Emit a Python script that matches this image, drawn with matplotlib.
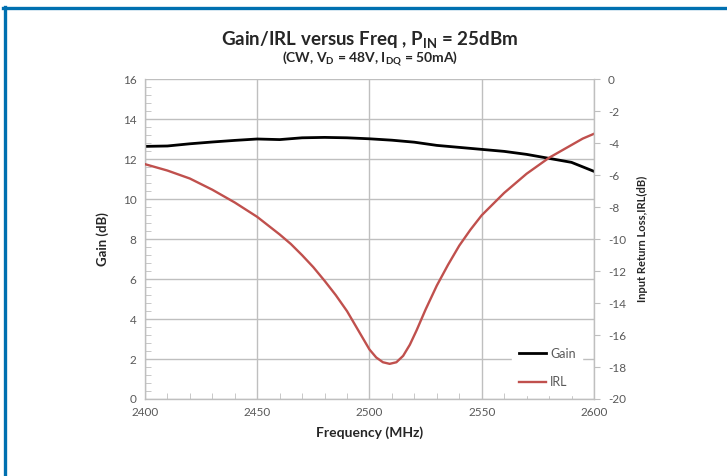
import numpy as np
import matplotlib
matplotlib.use("Agg")
from matplotlib import pyplot as plt
from matplotlib.lines import Line2D
from matplotlib.ticker import MultipleLocator

plt.rcParams['font.family'] = ['Lato', 'DejaVu Sans']
plt.rcParams['mathtext.fontset'] = 'custom'
plt.rcParams['mathtext.bf'] = 'Lato:bold'
plt.rcParams['mathtext.rm'] = 'Lato'
plt.rcParams['mathtext.default'] = 'bf'
plt.rcParams['axes.unicode_minus'] = False

# données
freq_gain = [2400, 2410, 2420, 2430, 2440, 2450, 2460, 2470, 2480, 2490, 2500,
             2510, 2520, 2530, 2540, 2550, 2560, 2570, 2580, 2590, 2600]
gain = [12.65, 12.67, 12.78, 12.87, 12.95, 13.02, 12.99, 13.08, 13.1, 13.08, 13.03,
        12.96, 12.86, 12.7, 12.6, 12.5, 12.4, 12.25, 12.05, 11.85, 11.4]

freq_irl = [2400, 2405, 2410, 2415, 2420, 2425, 2430, 2435, 2440, 2445, 2450,
            2455, 2460, 2465, 2470, 2475, 2480, 2485, 2490, 2495, 2500, 2503,
            2506, 2509, 2512, 2515, 2518, 2521, 2525, 2530, 2535, 2540, 2545,
            2550, 2555, 2560, 2565, 2570, 2575, 2580, 2585, 2590, 2595, 2600]
irl = [-5.3, -5.5, -5.7, -5.95, -6.2, -6.55, -6.9, -7.3, -7.7, -8.15, -8.6,
       -9.15, -9.7, -10.3, -11.0, -11.75, -12.6, -13.5, -14.5, -15.7, -16.9, -17.4,
       -17.7, -17.8, -17.7, -17.3, -16.6, -15.7, -14.4, -12.9, -11.6, -10.4, -9.4,
       -8.5, -7.8, -7.1, -6.5, -5.9, -5.4, -4.9, -4.5, -4.1, -3.7, -3.4]

titre = r"Gain/IRL versus Freq , P$_{IN}$ = 25dBm"
sous_titre = r"(CW, V$_{D}$ = 48V, I$_{DQ}$ = 50mA)"

gris_axe = "#bfbfbf"
gris_txt = "#595959"

fig = plt.figure(figsize=(7.27, 4.76), dpi=100)
ax = fig.add_axes([0.1994, 0.1618, 0.6176, 0.6712])
ax2 = ax.twinx()

l1, = ax.plot(freq_gain, gain, color="black", lw=2, label="Gain")
l2, = ax2.plot(freq_irl, irl, color="#c0504d", lw=1.7, label="IRL")

ax.set_xlim(2400, 2600)
ax.set_ylim(0, 16)
ax2.set_ylim(-20, 0)

ax.xaxis.set_major_locator(MultipleLocator(50))
ax.xaxis.set_minor_locator(MultipleLocator(10))
ax.yaxis.set_major_locator(MultipleLocator(2))
ax.yaxis.set_minor_locator(MultipleLocator(0.4))
ax2.yaxis.set_major_locator(MultipleLocator(2))

ax.grid(True, which="major", color=gris_axe, lw=1)
ax.set_axisbelow(True)

for a in (ax, ax2):
    for s in a.spines.values():
        s.set_visible(False)
ax.spines["left"].set_visible(True)
ax.spines["bottom"].set_visible(True)
ax2.spines["right"].set_visible(True)
for s in (ax.spines["left"], ax.spines["bottom"], ax2.spines["right"]):
    s.set_color(gris_axe)
    s.set_linewidth(1)

ax.tick_params(axis="both", which="both", direction="in", color=gris_axe,
               labelcolor=gris_txt, labelsize=8.5)
ax.tick_params(axis="both", which="major", length=0, pad=6)
ax.tick_params(axis="both", which="minor", length=4)
ax2.tick_params(axis="y", direction="out", length=4, color=gris_axe,
                labelcolor=gris_txt, labelsize=8.5, pad=6)

ax.set_xlabel("Frequency (MHz)", fontsize=10, fontweight="bold", color="#262626", labelpad=6)
ax.set_ylabel("Gain (dB)", fontsize=9.5, fontweight="bold", color="#262626", labelpad=10)
ax2.set_ylabel("Input Return Loss,IRL(dB)", fontsize=8, fontweight="bold",
               color="#262626", labelpad=8)

fig.text(0.509, 0.916, titre, ha="center", va="center", fontsize=13.5,
         fontweight="bold", color="#262626")
fig.text(0.509, 0.877, sous_titre, ha="center", va="center", fontsize=10,
         fontweight="bold", color="#262626")

leg = ax2.legend(handles=[l1, l2], loc="lower right", bbox_to_anchor=(0.987, -0.006),
                 frameon=True, fontsize=9, handlelength=2.2, handletextpad=0.3,
                 labelspacing=1.35, borderpad=0.5)
leg.get_frame().set_facecolor("white")
leg.get_frame().set_edgecolor("white")
leg.get_frame().set_alpha(1)
for t in leg.get_texts():
    t.set_color(gris_txt)

# cadre bleu
bleu = "#0070b0"
fig.add_artist(Line2D([0.004, 1.0], [0.984, 0.984], color=bleu, lw=2.4,
                      transform=fig.transFigure))
fig.add_artist(Line2D([0.0062, 0.0062], [0.0, 0.986], color=bleu, lw=2.4,
                      transform=fig.transFigure))

fig.savefig("out.png", dpi=100)
